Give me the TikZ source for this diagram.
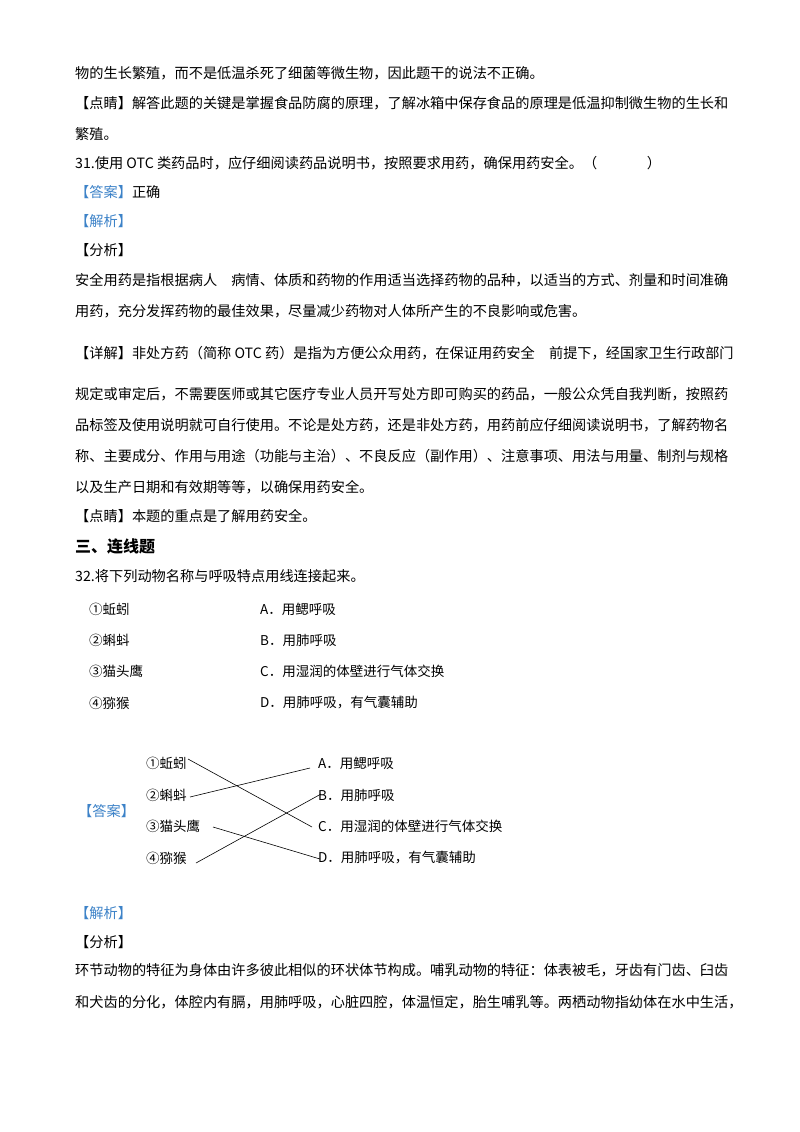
\documentclass[tikz,border=0pt]{standalone}
\usepackage{fontspec}
\setmainfont{Liberation Serif}
\newfontfamily\cjk{Noto Sans CJK SC}
\definecolor{tagblue}{RGB}{60,130,200}
\begin{document}
\begin{tikzpicture}[x=1pt,y=-1pt,
  txt/.style={anchor=west,inner sep=0pt,font=\cjk\fontsize{14.2}{16}\selectfont},
  hd/.style={txt,font=\cjk\bfseries\fontsize{16}{18}\selectfont},
  item/.style={anchor=west,inner sep=0pt,font=\cjk\fontsize{13.5}{15}\selectfont},
  link/.style={draw,line width=0.6pt}]
\useasboundingbox[fill=white] (0,0) rectangle (800,1132);
\node[txt] (l1) at (75,73) {物的生长繁殖，而不是低温杀死了细菌等微生物，因此题干的说法不正确。};
\node[txt] (l2) at (75,103) {【点睛】解答此题的关键是掌握食品防腐的原理，了解冰箱中保存食品的原理是低温抑制微生物的生长和};
\node[txt] (l3) at (75,134) {繁殖。};
\node[txt] (l4) at (75,163) {31.使用 OTC 类药品时，应仔细阅读药品说明书，按照要求用药，确保用药安全。（\hspace{3.5em}）};
\node[txt,text=tagblue] (l5) at (75,192) {【答案】\textcolor{black}{正确}};
\node[txt,text=tagblue] (l6) at (75,221) {【解析】};
\node[txt] (l7) at (75,250) {【分析】};
\node[txt] (l8) at (75,280) {安全用药是指根据病人\hspace{1em}病情、体质和药物的作用适当选择药物的品种，以适当的方式、剂量和时间准确};
\node[txt] (l9) at (75,311) {用药，充分发挥药物的最佳效果，尽量减少药物对人体所产生的不良影响或危害。};
\node[txt] (l10) at (75,353) {【详解】非处方药（简称 OTC 药）是指为方便公众用药，在保证用药安全\hspace{1em}前提下，经国家卫生行政部门};
\node[txt] (l11) at (75,394) {规定或审定后，不需要医师或其它医疗专业人员开写处方即可购买的药品，一般公众凭自我判断，按照药};
\node[txt] (l12) at (75,425) {品标签及使用说明就可自行使用。不论是处方药，还是非处方药，用药前应仔细阅读说明书，了解药物名};
\node[txt] (l13) at (75,456) {称、主要成分、作用与用途（功能与主治）、不良反应（副作用）、注意事项、用法与用量、制剂与规格};
\node[txt] (l14) at (75,487) {以及生产日期和有效期等等，以确保用药安全。};
\node[txt] (l15) at (75,516) {【点睛】本题的重点是了解用药安全。};
\node[hd] (l16) at (75,546) {三、连线题};
\node[txt] (l17) at (75,576) {32.将下列动物名称与呼吸特点用线连接起来。};
% question
\node[item] (q1) at (89,609) {①蚯蚓};
\node[item] (q2) at (89,640) {②蝌蚪};
\node[item] (q3) at (89,671) {③猫头鹰};
\node[item] (q4) at (89,703) {④猕猴};
\node[item] (qa) at (260,609) {A．用鳃呼吸};
\node[item] (qb) at (260,640) {B．用肺呼吸};
\node[item] (qc) at (260,671) {C．用湿润的体壁进行气体交换};
\node[item] (qd) at (260,703) {D．用肺呼吸，有气囊辅助};
% answer
\node[txt,text=tagblue] (ans) at (78,811) {【答案】};
\node[item] (a1) at (146,763) {①蚯蚓};
\node[item] (a2) at (146,795) {②蝌蚪};
\node[item] (a3) at (146,826) {③猫头鹰};
\node[item] (a4) at (146,858) {④猕猴};
\node[item] (b1) at (318,763) {A．用鳃呼吸};
\node[item] (b2) at (318,795) {B．用肺呼吸};
\node[item] (b3) at (318,826) {C．用湿润的体壁进行气体交换};
\node[item] (b4) at (318,858) {D．用肺呼吸，有气囊辅助};
\coordinate (e1) at (188,759);
\coordinate (e2) at (190,797);
\coordinate (e3) at (213,827);
\coordinate (e4) at (196,863);
\coordinate (c1) at (312,827);
\coordinate (c2) at (310,768);
\coordinate (c3) at (320,859);
\coordinate (c4) at (321,794);
\draw[link] (e1) -- (c1);
\draw[link] (e2) -- (c2);
\draw[link] (e3) -- (c3);
\draw[link] (e4) -- (c4);
\node[txt,text=tagblue] (l18) at (75,913) {【解析】};
\node[txt] (l19) at (75,942) {【分析】};
\node[txt] (l20) at (75,970) {环节动物的特征为身体由许多彼此相似的环状体节构成。哺乳动物的特征：体表被毛，牙齿有门齿、臼齿};
\node[txt] (l21) at (75,1002) {和犬齿的分化，体腔内有膈，用肺呼吸，心脏四腔，体温恒定，胎生哺乳等。两栖动物指幼体在水中生活，};
\end{tikzpicture}
\end{document}
